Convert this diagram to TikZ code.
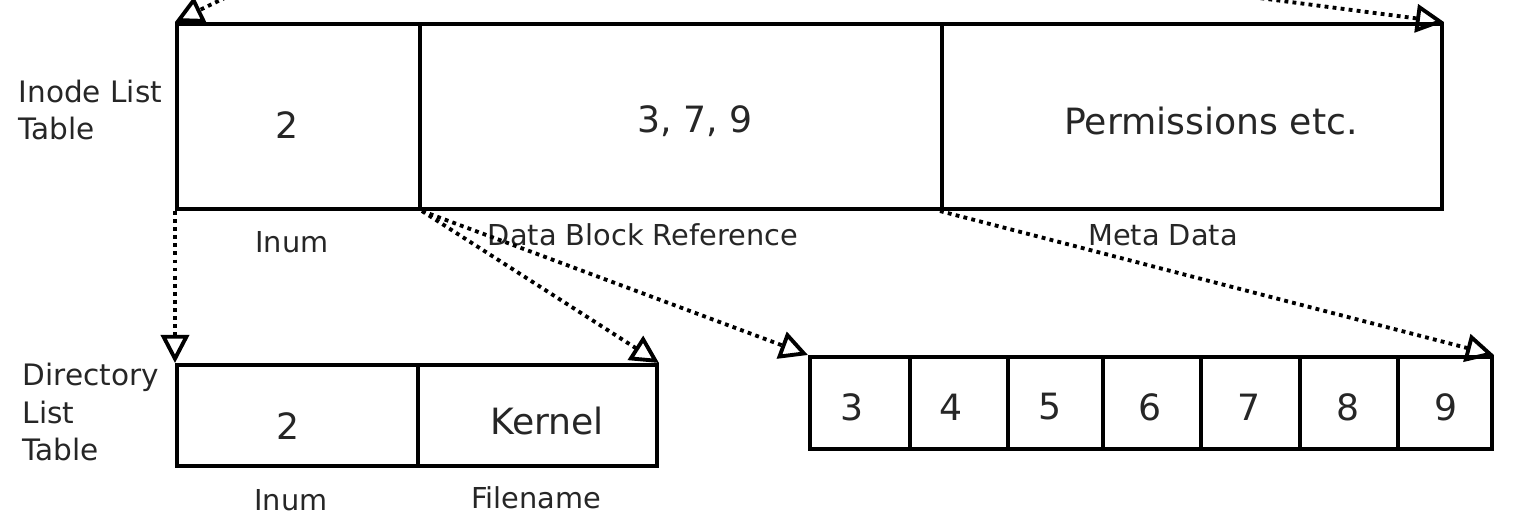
\documentclass[tikz,border=0pt]{standalone}
\usepackage{fontspec}
\setmainfont{DejaVu Sans}
\usetikzlibrary{arrows.meta}

\begin{document}
\begin{tikzpicture}[x=0.1mm, y=-0.1mm,
  cell/.style={draw, line width=1.15pt, inner sep=0pt},
  big/.style={font=\fontsize{10.3}{12}\selectfont, inner sep=0pt, text=black!85},
  small/.style={font=\fontsize{8.2}{10}\selectfont, inner sep=0pt, text=black!85},
  side/.style={font=\fontsize{8.4}{10.6}\selectfont, inner sep=0pt, align=left, anchor=west, text=black!85},
  link/.style={line width=1.1pt, dash pattern=on 1.1pt off 1.2pt,
    -{Triangle[open, length=8pt, width=8pt, line width=1.1pt]}}
]
\useasboundingbox (0,0) rectangle (1519,515);
\clip (0,0) rectangle (1519,515);

% inode list table
\node[cell, minimum width=24.3mm, minimum height=18.5mm] (in1) at (298.5,116.5) {};
\node[cell, minimum width=52.2mm, minimum height=18.5mm] (in2) at (681,116.5) {};
\node[cell, minimum width=50mm,   minimum height=18.5mm] (in3) at (1192,116.5) {};
\node[big] (t1) at (287,125) {2};
\node[big] (t2) at (695,121) {3, 7, 9};
\node[big] (t3) at (1211,121) {Permissions etc.};
\node[small] (l1) at (292,242) {Inum};
\node[small] (l2) at (643,235) {Data Block Reference};
\node[small] (l3) at (1163,235) {Meta Data};
\node[side] (inode) at (18,110) {Inode List\\Table};

% directory list table
\node[cell, minimum width=24.1mm, minimum height=10.1mm] (d1) at (297.5,415.5) {};
\node[cell, minimum width=23.9mm, minimum height=10.1mm] (d2) at (537.5,415.5) {};
\node[big] (dt1) at (288,426) {2};
\node[big] (dt2) at (547,421) {Kernel};
\node[small] (dl1) at (291,500) {Inum};
\node[small] (dl2) at (536,498) {Filename};
\node[side] (dir) at (22,412) {Directory\\List\\Table};

% data blocks
\node[cell, minimum width=10mm,  minimum height=9.2mm] (b3) at (860,403) {};
\node[cell, minimum width=9.8mm, minimum height=9.2mm] (b4) at (959,403) {};
\node[cell, minimum width=9.5mm, minimum height=9.2mm] (b5) at (1055.5,403) {};
\node[cell, minimum width=9.8mm, minimum height=9.2mm] (b6) at (1152,403) {};
\node[cell, minimum width=9.9mm, minimum height=9.2mm] (b7) at (1250.5,403) {};
\node[cell, minimum width=9.8mm, minimum height=9.2mm] (b8) at (1349,403) {};
\node[cell, minimum width=9.4mm, minimum height=9.2mm] (b9) at (1445,403) {};
\node[big] at (852,407) {3};
\node[big] at (951,407) {4};
\node[big] at (1050,407) {5};
\node[big] at (1150,407) {6};
\node[big] at (1249,407) {7};
\node[big] at (1348,407) {8};
\node[big] at (1446,407) {9};

% references
\coordinate (srcL) at (357,-66);
\coordinate (srcR) at (1044,-30);
\draw[link] (srcL) -- (in1.north west);
\draw[link] (srcR) -- (in3.north east);
\draw[link] (in1.south west) -- (d1.north west);
\draw[link] (in1.south east) -- (d2.north east);
\draw[link] (in1.south east) -- (b3.north west);
\draw[link] (in3.south west) -- (b9.north east);
\end{tikzpicture}
\end{document}
